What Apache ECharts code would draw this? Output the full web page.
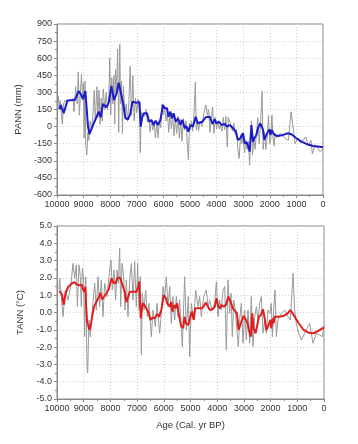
<!DOCTYPE html>
<html><head><meta charset="utf-8">
<script src="https://cdn.jsdelivr.net/npm/echarts@6/dist/echarts.min.js"></script>
<style>html,body{margin:0;padding:0;background:#fff}#c{width:358px;height:444px}</style>
</head><body><div id="c"></div>
<script>
var xTicks = [10000,9000,8000,7000,6000,5000,4000,3000,2000,1000,0];
var pannRawAge = [9950,9920,9880,9840,9800,9750,9700,9600,9500,9400,9360,9300,9240,9200,9160,9120,9080,9040,9010,8980,8950,8920,8880,8840,8800,8760,8700,8650,8600,8560,8500,8460,8420,8380,8340,8300,8260,8200,8150,8100,8050,8020,7980,7940,7900,7860,7830,7800,7760,7720,7680,7640,7610,7570,7540,7500,7450,7400,7350,7300,7250,7200,7150,7100,7050,7000,6950,6900,6870,6830,6800,6750,6700,6650,6600,6550,6500,6450,6400,6350,6300,6250,6200,6150,6100,6050,6000,5950,5900,5850,5800,5750,5700,5650,5600,5550,5500,5450,5400,5350,5300,5250,5200,5150,5100,5060,5020,4980,4940,4900,4860,4800,4760,4720,4680,4620,4550,4480,4400,4350,4300,4250,4200,4150,4100,4050,4000,3950,3900,3850,3800,3750,3700,3650,3600,3560,3500,3450,3400,3350,3300,3250,3200,3150,3100,3050,3000,2950,2900,2850,2800,2760,2720,2690,2650,2600,2550,2500,2450,2400,2350,2290,2250,2200,2150,2100,2050,2000,1960,1920,1880,1840,1800,1750,1700,1600,1500,1400,1300,1200,1100,1050,950,850,750,650,550,450,400,300,200,100,0];
var pannRawVal = [270,150,230,130,20,200,230,220,230,250,130,350,200,480,100,300,460,250,380,-100,400,-150,-250,-50,-120,50,-30,100,320,50,350,80,320,20,250,50,330,150,300,150,250,600,100,430,200,450,20,500,300,680,-50,720,200,400,-60,350,100,200,50,200,530,100,450,50,250,120,240,150,-230,130,50,120,90,150,40,80,-50,60,-30,50,-100,40,-100,60,-10,200,100,170,50,120,-50,130,-20,100,-80,70,-60,90,-100,60,-130,70,-30,50,-150,-290,30,-30,50,-40,60,390,-30,60,-40,50,0,120,190,100,150,-50,60,170,-60,80,-20,40,-20,10,-40,80,-30,90,-180,80,40,0,-40,30,-60,-20,-200,-280,-70,-150,-60,-230,-120,-200,-130,-340,-100,50,-250,-100,-200,-50,80,-150,20,310,-200,-50,-200,-100,100,-150,-100,100,-100,-170,-60,-100,-80,-60,-80,-110,-120,130,-50,-150,-100,-140,-120,-90,-170,-120,-240,-160,-190,-220,-190];
var pannSmoothAge = [9910,9861,9748,9610,9334,9184,9083,9020,8933,8835,8782,8646,8519,8432,8357,8270,8143,8056,7955,7857,7767,7680,7605,7518,7428,7330,7240,7165,7015,6955,6900,6853,6800,6740,6665,6616,6541,6451,6365,6290,6203,6113,6014,5950,5864,5812,5737,5677,5613,5538,5450,5360,5285,5200,5136,5061,4986,4887,4786,4711,4636,4534,4410,4260,4158,4071,4007,3910,3820,3695,3608,3507,3383,3282,3195,3105,3007,2944,2857,2793,2756,2692,2632,2580,2505,2444,2354,2305,2256,2203,2128,2068,2004,1978,1929,1880,1816,1692,1504,1316,1188,1000,812,624,376,124,0];
var pannSmoothVal = [152,190,117,228,233,312,275,240,312,0,-65,14,82,131,82,198,169,210,356,233,286,385,306,205,73,64,117,219,210,198,215,0,80,117,102,117,43,58,14,52,14,58,190,161,161,87,131,73,117,43,73,14,58,-14,5,-44,14,0,87,29,14,43,82,87,23,64,29,43,14,23,0,14,-14,-44,-117,-102,-58,-146,-140,-190,-219,14,-132,-102,-73,-14,29,14,-27,-117,-73,-44,-24,-73,-30,-53,-73,-82,-73,-58,-67,-102,-132,-152,-170,-176,-182];
var tannRawAge = [9925,9900,9838,9775,9688,9588,9488,9400,9338,9276,9238,9176,9126,9089,9051,9001,8964,8926,8876,8851,8801,8752,8677,8589,8527,8464,8402,8340,8277,8215,8127,8027,7978,7928,7865,7803,7753,7703,7653,7615,7566,7503,7453,7403,7340,7278,7216,7153,7091,7029,6979,6929,6879,6841,6804,6742,6679,6617,6554,6467,6404,6317,6255,6155,6092,6030,5968,5905,5843,5780,5718,5655,5593,5531,5468,5406,5306,5219,5156,5081,5031,4969,4881,4806,4719,4657,4594,4507,4407,4345,4282,4195,4095,4032,3970,3908,3845,3783,3720,3658,3596,3533,3483,3433,3383,3321,3258,3209,3159,3096,3034,2971,2909,2846,2784,2722,2659,2597,2534,2472,2409,2347,2285,2222,2160,2097,2035,1972,1935,1885,1835,1785,1723,1598,1473,1348,1261,1161,1099,1036,948,848,724,536,412,287,162,62,0];
var tannRawVal = [1.3,1.98,0.92,-0.24,1.3,0.72,1.5,2.84,1.98,2.75,0.34,2.75,2.07,0.34,2.55,1.88,-1.4,2.07,-3.13,-3.5,-0.43,-1.4,0.14,1.69,0.14,2.07,0.34,1.88,-0.24,1.69,0.92,2.46,3.03,1.3,2.46,0.72,2.46,1.69,3.71,0.34,2.84,2.07,0.14,1.88,-0.24,1.88,2.84,0.72,2.94,0.34,2.84,0.14,2.07,-2.46,1.11,0.14,1.3,-0.24,0.53,-1.4,0.14,-0.82,0.53,-1.2,-0.05,1.5,0.92,2.07,0.34,1.5,-0.63,0.92,-0.43,0.92,-0.24,0.72,-1.98,2.07,-1.01,0.92,-2.55,0.53,-0.43,1.3,0.34,0.92,-0.24,0.92,1.3,0.34,0.72,0.14,0.53,1.78,-0.24,0.72,0.14,1.3,1.5,-2.17,1.88,-0.05,1.11,-1.4,0.72,0.14,0.14,-1.98,-0.43,0.53,-1.78,0.14,-1.59,0.14,-1.78,0.92,-1.98,-0.24,0.34,-0.43,0.53,0.92,-1.2,-0.43,-1.2,0.14,-0.05,0.53,-1.4,0.14,1.3,-1.4,-0.43,-0.05,0.14,-0.24,-0.43,2.26,0.14,-0.63,-1.2,-1.59,-1.2,-0.63,-1.78,-1.2,-1.3,-1.4,-0.72];
var tannSmoothAge = [9910,9861,9812,9749,9674,9587,9437,9336,9273,9149,9062,9024,8973,8935,8912,8875,8837,8785,8736,8673,8612,8524,8436,8374,8312,8237,8149,8061,7961,7886,7811,7736,7649,7586,7524,7461,7400,7274,7149,7024,6962,6920,6862,6812,6775,6712,6649,6587,6499,6424,6336,6249,6174,6087,6000,5924,5874,5824,5774,5724,5674,5612,5549,5499,5424,5349,5274,5224,5174,5087,5024,4949,4880,4824,4774,4674,4574,4499,4424,4349,4274,4174,4087,4024,3962,3899,3837,3749,3674,3587,3499,3412,3337,3262,3199,3112,3012,2949,2862,2812,2737,2687,2637,2562,2512,2437,2362,2287,2262,2212,2162,2074,2012,1974,1924,1887,1849,1799,1699,1512,1362,1262,1137,949,762,575,387,200,0];
var tannSmoothVal = [1.26,1.34,1.01,0.45,1.14,1.46,1.69,1.76,1.63,1.57,1.59,1.34,1.2,1.49,0.53,-0.53,-0.72,-1.01,-0.72,-0.14,0.34,0.62,0.88,1.14,0.76,0.91,1.11,1.34,1.98,1.72,1.69,1.98,2.03,1.78,1.49,1.17,0.6,1.2,1.2,1.2,1.49,1.8,-0.34,0.34,0.53,0.38,0.43,0.05,-0.43,-0.3,-0.34,-0.09,-0.24,0.19,1.01,0.82,0.53,0.62,0.34,0.62,0.05,0.43,0.24,0.53,-0.24,-0.8,-0.9,-0.24,-0.62,-0.72,-0.34,0.05,-0.43,0.24,0.3,0.24,0.24,0.38,0.57,0.34,0.14,0.19,0.34,0.82,0.38,0.24,0.43,0.34,0.43,0.91,0.62,0.24,0.1,-0.05,-1.01,-0.62,-0.2,-0.34,-0.62,-1.01,-1.4,-0.05,-0.91,-1.2,-0.82,-0.24,-0.14,0.19,0.19,-0.43,-1.01,-0.72,-0.43,-0.91,-0.34,-0.62,-0.24,-0.14,-0.24,-0.2,-0.05,0.14,-0.14,-0.62,-1.01,-1.17,-1.2,-1.05,-0.86];

function zip(a,b){return a.map(function(v,i){return [v,b[i]];});}
var FONT = 'Liberation Sans, Arial, sans-serif';
var axisCol = '#888';
function xAx(gi, showName){
  return {gridIndex:gi, type:'value', min:0, max:10000, interval:1000, inverse:true,
    axisLine:{show:true, onZero:false, lineStyle:{color:axisCol, width:1}},
    axisTick:{show:true, length:3, lineStyle:{color:axisCol}},
    minorTick:{show:true, splitNumber:2, length:2, lineStyle:{color:axisCol}},
    axisLabel:{color:'#333', fontSize:9, fontFamily:FONT, margin:5, showMinLabel:true, showMaxLabel:true, hideOverlap:false,
      formatter:function(v){return String(v);}},
    splitLine:{show:true, lineStyle:{color:'#cfcfcf', type:[1,2], width:1}},
    name: showName ? 'Age (Cal. yr BP)' : '', nameLocation:'middle', nameGap:21,
    nameTextStyle:{color:'#333', fontSize:9.5, fontFamily:FONT}};
}
function yAx(gi, min, max, iv, name, fmt){
  return {gridIndex:gi, type:'value', min:min, max:max, interval:iv,
    axisLine:{show:true, onZero:false, lineStyle:{color:axisCol, width:1}},
    axisTick:{show:true, length:3, lineStyle:{color:axisCol}},
    minorTick:{show:true, splitNumber:2, length:2, lineStyle:{color:axisCol}},
    axisLabel:{color:'#333', fontSize:9, fontFamily:FONT, margin:5, formatter:fmt, showMinLabel:true, showMaxLabel:true},
    splitLine:{show:true, lineStyle:{color:'#cfcfcf', type:[1,2], width:1}},
    name:name, nameLocation:'middle', nameGap:27, nameRotate:90,
    nameTextStyle:{color:'#333', fontSize:9.5, fontFamily:FONT}};
}
var chart = echarts.init(document.getElementById('c'), null, {renderer:'canvas'});
chart.setOption({
  animation:false,
  backgroundColor:'#fff',
  grid:[
    {left:57, top:24, width:266, height:171, show:true, borderColor:axisCol, borderWidth:1},
    {left:57, top:226, width:267, height:173, show:true, borderColor:axisCol, borderWidth:1}
  ],
  xAxis:[xAx(0,false), xAx(1,true)],
  yAxis:[
    yAx(0,-600,900,150,'PANN (mm)', function(v){return String(v);}),
    yAx(1,-5,5,1,'TANN (°C)', function(v){return v.toFixed(1);})
  ],
  series:[
    {type:'line', xAxisIndex:0, yAxisIndex:0, data:zip(pannRawAge,pannRawVal), showSymbol:false, lineStyle:{color:'#9a9a9a', width:1}, z:2},
    {type:'line', xAxisIndex:0, yAxisIndex:0, data:zip(pannSmoothAge,pannSmoothVal), showSymbol:false, lineStyle:{color:'#1c1cc8', width:2}, z:3},
    {type:'line', xAxisIndex:1, yAxisIndex:1, data:zip(tannRawAge,tannRawVal), showSymbol:false, lineStyle:{color:'#9a9a9a', width:1}, z:2},
    {type:'line', xAxisIndex:1, yAxisIndex:1, data:zip(tannSmoothAge,tannSmoothVal), showSymbol:false, lineStyle:{color:'#e01e1e', width:2}, z:3}
  ]
});
</script></body></html>
